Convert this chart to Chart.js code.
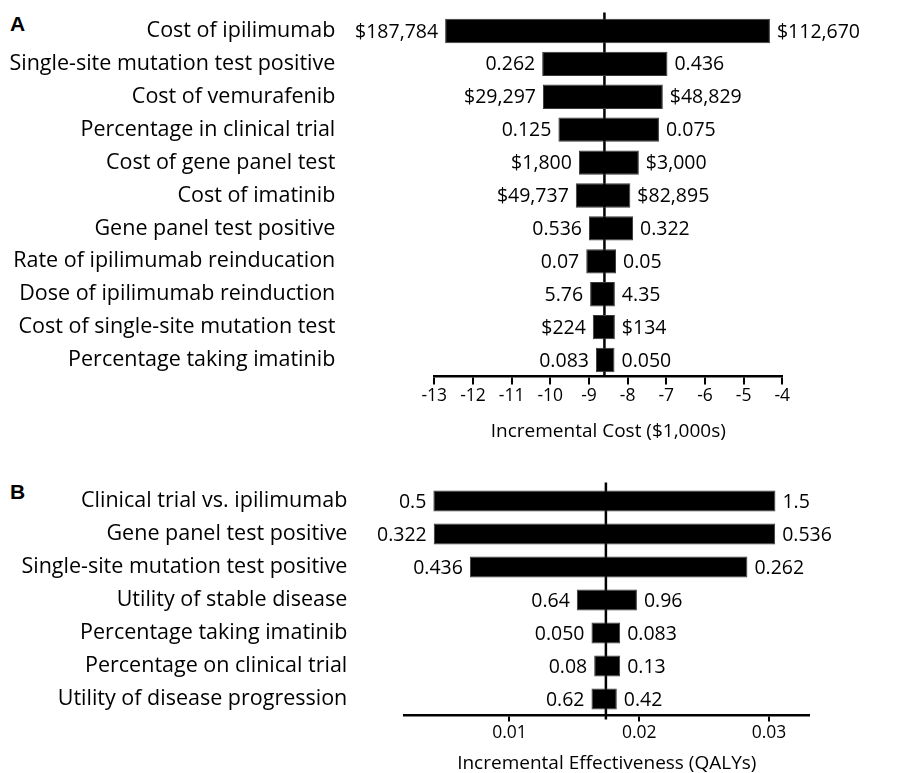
<!DOCTYPE html>
<html>
<head>
<meta charset="utf-8">
<title>Tornado diagrams</title>
<script src="https://cdn.jsdelivr.net/npm/chart.js@4.4.1/dist/chart.umd.min.js"></script>
<style>
  body { margin: 0; background: #fff; width: 920px; height: 773px; overflow: hidden; position: relative; }
  canvas { position: absolute; left: 0; }
  #chartCost { top: 0; }
  #chartEff { top: 460px; }
  .tag { position: absolute; left: 10px; font: bold 21px "Liberation Sans", Arial, sans-serif; color: #000; }
</style>
</head>
<body>
<div class="tag" style="top:12px">A</div>
<div class="tag" style="top:480px">B</div>
<canvas id="chartCost" width="920" height="460"></canvas>
<canvas id="chartEff" width="920" height="330"></canvas>

<script>
// ---- Panel A: incremental cost ($1,000s) ----
const costParams = [
  "Cost of ipilimumab",
  "Single-site mutation test positive",
  "Cost of vemurafenib",
  "Percentage in clinical trial",
  "Cost of gene panel test",
  "Cost of imatinib",
  "Gene panel test positive",
  "Rate of ipilimumab reinducation",
  "Dose of ipilimumab reinduction",
  "Cost of single-site mutation test",
  "Percentage taking imatinib"
];
const costLow  = [-12.72, -10.21, -10.19, -9.79, -9.26, -9.34, -9.00, -9.07, -8.97, -8.90, -8.82];
const costHigh = [-4.32, -6.97, -7.09, -7.19, -7.71, -7.93, -7.86, -8.30, -8.33, -8.33, -8.34];
const costLeftText  = ["$187,784", "0.262", "$29,297", "0.125", "$1,800", "$49,737", "0.536", "0.07", "5.76", "$224", "0.083"];
const costRightText = ["$112,670", "0.436", "$48,829", "0.075", "$3,000", "$82,895", "0.322", "0.05", "4.35", "$134", "0.050"];
const costBase = -8.6;
const costTicks = [-13, -12, -11, -10, -9, -8, -7, -6, -5, -4];

// ---- Panel B: incremental effectiveness (QALYs) ----
const effParams = [
  "Clinical trial vs. ipilimumab",
  "Gene panel test positive",
  "Single-site mutation test positive",
  "Utility of stable disease",
  "Percentage taking imatinib",
  "Percentage on clinical trial",
  "Utility of disease progression"
];
const effLow  = [0.00414, 0.00417, 0.00695, 0.01519, 0.01632, 0.01653, 0.01632];
const effHigh = [0.03049, 0.03047, 0.02833, 0.01982, 0.01853, 0.01853, 0.01827];
const effLeftText  = ["0.5", "0.322", "0.436", "0.64", "0.050", "0.08", "0.62"];
const effRightText = ["1.5", "0.536", "0.262", "0.96", "0.083", "0.13", "0.42"];
const effBase = 0.01743;
const effTicks = [0.01, 0.02, 0.03];

const FONT = "'Open Sans', sans-serif";

// Draws the base-case line and the low/high value text beside every bar
const tornadoPlugin = {
  id: "tornado",
  beforeDatasetsDraw(chart, args, opts) {
    const { ctx, chartArea } = chart;
    const x = chart.scales.x.getPixelForValue(opts.base);
    ctx.save();
    ctx.strokeStyle = "#000";
    ctx.lineWidth = 2.5;
    ctx.beginPath();
    ctx.moveTo(x, chartArea.top - 2);
    ctx.lineTo(x, chartArea.bottom + opts.below);
    ctx.stroke();
    ctx.restore();
  },
  afterDatasetsDraw(chart, args, opts) {
    const { ctx } = chart;
    const meta = chart.getDatasetMeta(0);
    ctx.save();
    ctx.fillStyle = "#000";
    ctx.font = opts.font;
    ctx.textBaseline = "middle";
    meta.data.forEach((bar, i) => {
      const left = Math.min(bar.x, bar.base);
      const right = Math.max(bar.x, bar.base);
      ctx.textAlign = "right";
      ctx.fillText(opts.leftText[i], left - opts.gap, bar.y + 1);
      ctx.textAlign = "left";
      ctx.fillText(opts.rightText[i], right + opts.gap, bar.y + 1);
    });
    ctx.restore();
  }
};

function makeTornado(canvasId, cfg) {
  return new Chart(document.getElementById(canvasId), {
    type: "bar",
    data: {
      labels: cfg.labels,
      datasets: [{
        data: cfg.low.map((v, i) => [v, cfg.high[i]]),
        backgroundColor: "#000",
        borderColor: "#3a3a3a",
        borderWidth: 1,
        borderSkipped: false,
        barPercentage: cfg.barPct,
        categoryPercentage: 1
      }]
    },
    plugins: [tornadoPlugin],
    options: {
      indexAxis: "y",
      responsive: false,
      animation: false,
      layout: { padding: cfg.padding },
      plugins: {
        legend: { display: false },
        tooltip: { enabled: false },
        tornado: {
          base: cfg.base,
          leftText: cfg.leftText,
          rightText: cfg.rightText,
          gap: 7,
          below: cfg.below,
          font: "19.5px " + FONT
        }
      },
      scales: {
        x: {
          type: "linear",
          min: cfg.min,
          max: cfg.max,
          afterBuildTicks: (scale) => { scale.ticks = cfg.ticks.map(v => ({ value: v })); },
          afterFit: (scale) => { scale.height = cfg.xHeight; },
          border: { display: true, color: "#000", width: 2.5 },
          grid: { drawOnChartArea: false, drawTicks: true, tickLength: cfg.tickLen, color: "#000", lineWidth: 2 },
          ticks: {
            color: "#000",
            font: { family: FONT, size: 17.5 },
            padding: 1,
            maxRotation: 0,
            autoSkip: false,
            callback: cfg.fmt
          },
          title: {
            display: true,
            text: cfg.title,
            color: "#000",
            font: { family: FONT, size: 19 },
            padding: { top: 0, bottom: cfg.titlePad }
          }
        },
        y: {
          // fixed width so the plot area starts where the reference's does;
          // drop the label padding chart.js adds above/below a vertical axis
          afterFit: (scale) => {
            scale.width = cfg.yWidth;
            scale.paddingTop = 0;
            scale.paddingBottom = 0;
          },
          border: { display: false },
          grid: { display: false, drawTicks: false },
          ticks: {
            color: "#000",
            font: { family: FONT, size: 21.5 },
            padding: cfg.labelGap,
            autoSkip: false
          }
        }
      }
    }
  });
}

makeTornado("chartCost", {
  labels: costParams,
  low: costLow,
  high: costHigh,
  leftText: costLeftText,
  rightText: costRightText,
  base: costBase,
  ticks: costTicks,
  min: -13,
  max: -4,
  fmt: (v) => String(v),
  title: "Incremental Cost ($1,000s)",
  barPct: 0.74,
  padding: { top: 14.5, right: 137.7, bottom: 11.5, left: 0 },
  xHeight: 72,
  yWidth: 434.3,
  labelGap: 99,
  tickLen: 8,
  titlePad: 6,
  below: 0
});

makeTornado("chartEff", {
  labels: effParams,
  low: effLow,
  high: effHigh,
  leftText: effLeftText,
  rightText: effRightText,
  base: effBase,
  ticks: effTicks,
  min: 0.0019,
  max: 0.0331,
  fmt: (v) => v.toFixed(2),
  title: "Incremental Effectiveness (QALYs)",
  barPct: 0.64,
  padding: { top: 24.5, right: 110.7, bottom: 12.5, left: 0 },
  xHeight: 62,
  yWidth: 404.3,
  labelGap: 57,
  tickLen: 6,
  titlePad: 3,
  below: 4
});
</script>
</body>
</html>
